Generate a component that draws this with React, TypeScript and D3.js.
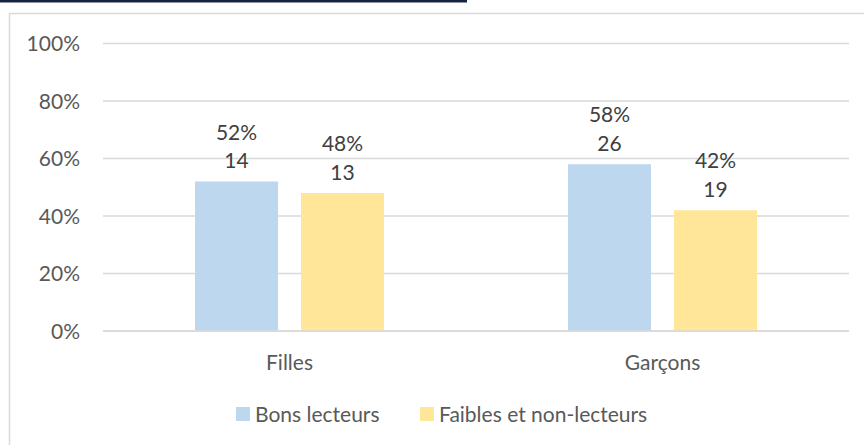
import * as React from "react";
import * as d3 from "d3";

const categories = ["Filles", "Garçons"];
const seriesNames = ["Bons lecteurs", "Faibles et non-lecteurs"];
const seriesColors = ["#bdd7ee", "#ffe699"];
// share (%) and count per category, one array per series
const bonsPct = [52, 58];
const bonsCount = [14, 26];
const faiblesPct = [48, 42];
const faiblesCount = [13, 19];
const yTicks = [0, 20, 40, 60, 80, 100];

const FONT = "Lato, 'Open Sans', sans-serif";
const TEXT = "#595959";
const FS = 21;

export default function App() {
  const width = 864;
  const height = 445;
  const plot = { left: 103, right: 849, top: 43.5, bottom: 331 };

  const y = d3.scaleLinear().domain([0, 100]).range([plot.bottom, plot.top]);
  const x = d3.scaleBand().domain(categories).range([plot.left, plot.right]);
  const inner = d3
    .scaleBand()
    .domain(seriesNames)
    .range([0, 189])
    .paddingInner(0.217);
  const groupOffset = (x.bandwidth() - 189) / 2;

  const series = [
    { name: seriesNames[0], pct: bonsPct, count: bonsCount, color: seriesColors[0] },
    { name: seriesNames[1], pct: faiblesPct, count: faiblesCount, color: seriesColors[1] },
  ];

  const legendX = [236, 420];

  return (
    <svg
      width={width}
      height={height}
      style={{ position: "absolute", left: 0, top: 0, background: "#fff" }}
      fontFamily={FONT}
    >
      <rect x={0} y={0} width={467} height={2.5} fill="#14263f" />
      <rect x={9.5} y={13.5} width={900} height={500} fill="none" stroke="#d9d9d9" strokeWidth={1.5} />

      {yTicks.map((t) => (
        <g key={t}>
          <line x1={plot.left} x2={plot.right} y1={y(t)} y2={y(t)} stroke="#d9d9d9" strokeWidth={1.3} />
          <text x={80} y={y(t) + 7.5} textAnchor="end" fontSize={FS} fill={TEXT}>
            {t}%
          </text>
        </g>
      ))}

      {series.map((s) =>
        categories.map((c, i) => {
          const bx = (x(c) as number) + groupOffset + (inner(s.name) as number);
          const bw = inner.bandwidth();
          const top = y(s.pct[i]);
          return (
            <g key={s.name + c}>
              <rect x={bx} y={top} width={bw} height={plot.bottom - top} fill={s.color} />
              <text x={bx + bw / 2} y={top - 42} textAnchor="middle" fontSize={FS} fill="#404040">
                {s.pct[i]}%
              </text>
              <text x={bx + bw / 2} y={top - 13.5} textAnchor="middle" fontSize={FS} fill="#404040">
                {s.count[i]}
              </text>
            </g>
          );
        })
      )}
      <line x1={plot.left} x2={plot.right} y1={plot.bottom} y2={plot.bottom} stroke="#d9d9d9" strokeWidth={1.3} />

      {categories.map((c) => (
        <text
          key={c}
          x={(x(c) as number) + x.bandwidth() / 2}
          y={370}
          textAnchor="middle"
          fontSize={FS}
          fill={TEXT}
        >
          {c}
        </text>
      ))}

      {series.map((s, i) => (
        <g key={s.name}>
          <rect x={legendX[i]} y={407} width={14} height={14} fill={s.color} />
          <text x={legendX[i] + 19} y={421.5} fontSize={FS} fill={TEXT}>
            {s.name}
          </text>
        </g>
      ))}
    </svg>
  );
}
